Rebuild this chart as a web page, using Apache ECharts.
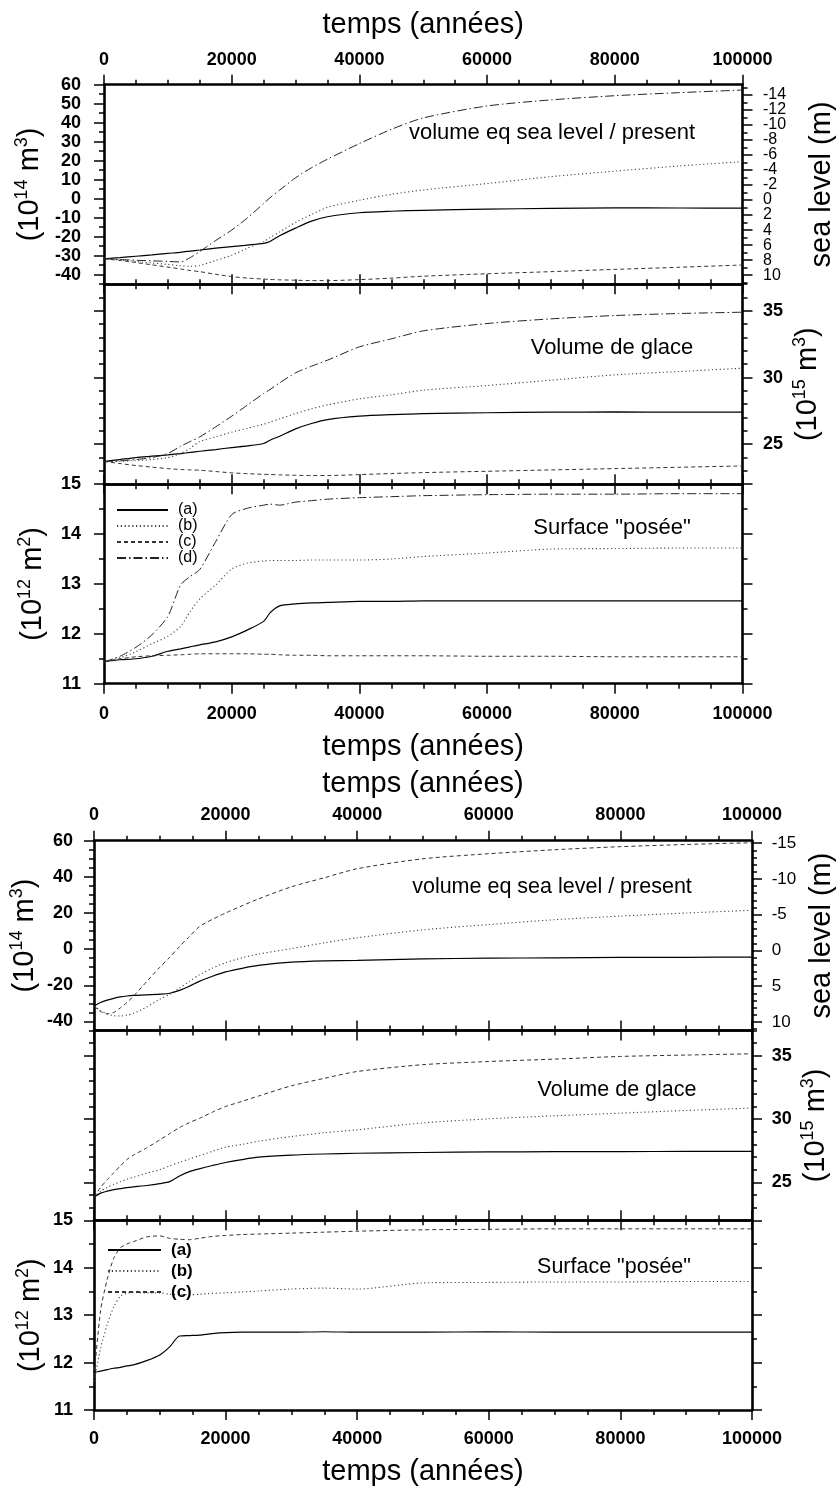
<!DOCTYPE html>
<html><head><meta charset="utf-8">
<script src="https://cdn.jsdelivr.net/npm/echarts@6/dist/echarts.min.js"></script>
<style>html,body{margin:0;padding:0;background:#fff}#c{width:840px;height:1486px}</style>
</head><body><div id="c"></div>
<script>
// ---------------- DATA ----------------
// time axis (years), figure 1 (top) and figure 2 (bottom)
const TA = [0, 2500, 5000, 7500, 10000, 12000, 13500, 15000, 17500, 20000, 22500, 25000, 26000, 27500, 30000, 32500, 35000, 40000, 45000, 50000, 60000, 70000, 80000, 90000, 100000];
const TB = [0, 1000, 2000, 3000, 4000, 5000, 6000, 8000, 10000, 11500, 13000, 14500, 16000, 18000, 20000, 22500, 25000, 30000, 35000, 40000, 50000, 60000, 70000, 80000, 90000, 100000];

// Figure 1 – volume eq sea level / present (10^14 m3)
const f1SeaA = [-31.6, -31.0, -30.3, -29.6, -28.8, -28.2, -27.6, -27.0, -26.0, -25.2, -24.4, -23.5, -22.5, -19.5, -15.5, -11.8, -9.5, -7.4, -6.6, -6.1, -5.5, -5.1, -4.8, -4.9, -5.0];
const f1SeaB = [-31.6, -32.3, -33.0, -33.8, -34.6, -35.3, -35.6, -35.2, -32.5, -29.8, -26.0, -22.5, -20.5, -17.5, -12.5, -8.3, -4.5, -0.8, 2.3, 4.6, 8.0, 11.6, 14.5, 17.2, 19.5];
const f1SeaC = [-31.6, -32.5, -33.6, -34.8, -36.0, -37.0, -37.8, -38.4, -39.8, -41.0, -41.8, -42.3, -42.5, -42.7, -42.9, -43.1, -43.1, -42.6, -41.8, -40.8, -39.5, -38.4, -37.2, -36.1, -34.9];
const f1SeaD = [-31.6, -32.0, -32.4, -32.7, -33.0, -33.3, -31.0, -27.8, -22.0, -16.5, -10.0, -2.5, 0.5, 4.5, 11.0, 16.3, 20.8, 29.0, 36.5, 42.5, 48.8, 52.0, 54.2, 55.8, 57.2];
// Figure 1 – Volume de glace (10^15 m3)
const f1VolA = [23.7, 23.85, 24.0, 24.1, 24.2, 24.3, 24.38, 24.47, 24.6, 24.75, 24.87, 25.05, 25.3, 25.6, 26.15, 26.55, 26.85, 27.1, 27.22, 27.3, 27.36, 27.4, 27.42, 27.4, 27.4];
const f1VolB = [23.7, 23.72, 23.78, 23.85, 24.0, 24.3, 24.7, 25.2, 25.55, 25.9, 26.2, 26.5, 26.65, 26.9, 27.3, 27.65, 27.95, 28.4, 28.7, 29.05, 29.4, 29.8, 30.2, 30.45, 30.7];
const f1VolC = [23.7, 23.55, 23.4, 23.28, 23.17, 23.1, 23.07, 23.05, 22.95, 22.85, 22.79, 22.74, 22.73, 22.7, 22.67, 22.65, 22.65, 22.72, 22.8, 22.87, 22.97, 23.07, 23.17, 23.27, 23.37];
const f1VolD = [23.7, 23.75, 23.85, 24.0, 24.3, 24.85, 25.2, 25.55, 26.3, 27.1, 27.95, 28.8, 29.1, 29.6, 30.35, 30.85, 31.3, 32.3, 32.9, 33.5, 34.05, 34.4, 34.65, 34.8, 34.9];
// Figure 1 – Surface "posée" (10^12 m2)
const f1SurA = [11.44, 11.48, 11.5, 11.55, 11.65, 11.7, 11.74, 11.78, 11.84, 11.94, 12.08, 12.25, 12.42, 12.56, 12.6, 12.62, 12.63, 12.65, 12.65, 12.66, 12.66, 12.66, 12.66, 12.66, 12.66];
const f1SurB = [11.44, 11.52, 11.64, 11.8, 11.95, 12.15, 12.45, 12.7, 12.98, 13.3, 13.42, 13.46, 13.47, 13.47, 13.47, 13.48, 13.48, 13.48, 13.5, 13.55, 13.62, 13.7, 13.71, 13.72, 13.72];
const f1SurC = [11.44, 11.5, 11.54, 11.56, 11.57, 11.58, 11.59, 11.6, 11.6, 11.6, 11.6, 11.59, 11.59, 11.58, 11.57, 11.57, 11.56, 11.56, 11.56, 11.56, 11.55, 11.55, 11.54, 11.54, 11.54];
const f1SurD = [11.44, 11.55, 11.73, 11.98, 12.35, 12.98, 13.15, 13.29, 13.85, 14.39, 14.52, 14.58, 14.6, 14.58, 14.64, 14.67, 14.7, 14.73, 14.75, 14.77, 14.79, 14.8, 14.8, 14.81, 14.81];

// Figure 2 – volume eq sea level / present
const f2SeaA = [-31.4, -29.5, -28.2, -27.2, -26.4, -25.9, -25.6, -25.3, -24.9, -24.4, -22.8, -20.5, -17.8, -15.0, -12.6, -10.6, -9.0, -7.2, -6.5, -6.2, -5.4, -5.0, -4.8, -4.6, -4.5, -4.4];
const f2SeaB = [-31.4, -34.0, -35.8, -36.8, -37.0, -36.5, -35.5, -32.0, -27.7, -25.0, -21.5, -17.8, -14.2, -10.5, -7.5, -4.8, -2.7, 0.3, 3.5, 6.3, 10.7, 13.6, 16.3, 18.3, 20.0, 21.5];
const f2SeaC = [-31.4, -34.5, -35.8, -35.0, -32.5, -29.5, -26.0, -18.0, -10.0, -4.5, 1.5, 7.0, 12.4, 16.5, 20.0, 24.0, 27.8, 34.5, 39.5, 44.5, 50.0, 52.8, 55.0, 56.7, 57.9, 58.9];
// Figure 2 – Volume de glace
const f2VolA = [23.83, 24.15, 24.3, 24.42, 24.5, 24.58, 24.64, 24.75, 24.9, 25.06, 25.5, 25.85, 26.07, 26.33, 26.57, 26.8, 26.99, 27.15, 27.24, 27.3, 27.36, 27.4, 27.42, 27.43, 27.44, 27.44];
const f2VolB = [23.83, 24.3, 24.6, 24.85, 25.05, 25.25, 25.4, 25.72, 26.0, 26.3, 26.58, 26.85, 27.1, 27.45, 27.78, 28.0, 28.25, 28.62, 28.92, 29.15, 29.7, 30.02, 30.26, 30.47, 30.68, 30.87];
const f2VolC = [23.83, 24.6, 25.2, 25.75, 26.3, 26.8, 27.15, 27.72, 28.36, 28.85, 29.33, 29.72, 30.05, 30.55, 30.99, 31.4, 31.82, 32.63, 33.22, 33.76, 34.3, 34.55, 34.74, 34.95, 35.06, 35.16];
// Figure 2 – Surface "posée"
const f2SurA = [11.79, 11.82, 11.85, 11.88, 11.9, 11.93, 11.95, 12.04, 12.16, 12.33, 12.56, 12.57, 12.58, 12.61, 12.63, 12.64, 12.64, 12.64, 12.65, 12.64, 12.64, 12.65, 12.64, 12.64, 12.64, 12.64];
const f2SurB = [11.6, 12.3, 12.8, 13.17, 13.4, 13.46, 13.48, 13.47, 13.47, 13.44, 13.43, 13.43, 13.44, 13.46, 13.47, 13.49, 13.51, 13.55, 13.57, 13.55, 13.68, 13.69, 13.7, 13.7, 13.71, 13.71];
const f2SurC = [11.7, 13.1, 13.75, 14.2, 14.42, 14.5, 14.55, 14.65, 14.67, 14.62, 14.6, 14.59, 14.62, 14.66, 14.68, 14.7, 14.71, 14.73, 14.75, 14.77, 14.8, 14.81, 14.82, 14.82, 14.82, 14.82];

// tick labels
const f1SeaLeftLabels = [-40, -30, -20, -10, 0, 10, 20, 30, 40, 50, 60];
const f1SeaRightLabels = [-14, -12, -10, -8, -6, -4, -2, 0, 2, 4, 6, 8, 10];
const f2SeaLeftLabels = [-40, -20, 0, 20, 40, 60];
const f2SeaRightLabels = [-15, -10, -5, 0, 5, 10];
const volRightLabels = [25, 30, 35];
const legendNames1 = ['(a)', '(b)', '(c)', '(d)'];
const legendNames2 = ['(a)', '(b)', '(c)'];
const panelTitles = ['volume eq sea level / present', 'Volume de glace', 'Surface "posée"'];

// ---------------- CHART ----------------
const FONT = '"Liberation Sans", Arial, Helvetica, sans-serif';
const LW = 2.6;
function range(a, b, s) { const r = []; for (let v = a; v <= b + 1e-9; v += s) r.push(Math.round(v * 1000) / 1000); return r; }
const plain = v => String(v);

const option = { animation: false, backgroundColor: '#fff', grid: [], xAxis: [], yAxis: [], series: [], legend: [], graphic: [] };

const tickLine = { color: '#000', width: 1.5 };
const nameStyle = { fontSize: 29, fontFamily: FONT, color: '#000', lineHeight: 34 };
const richStyle = { rich: {
  m: { fontSize: 29, fontFamily: FONT, color: '#000', lineHeight: 34 },
  s: { fontSize: 18, fontFamily: FONT, color: '#000', verticalAlign: 'top' }
} };
function supName(exp, unit, uexp) { return '{m|(10}{s|' + exp + '}{m| ' + unit + '}{s|' + uexp + '}{m|)}'; }

function addGrid(left, right, top, height) {
  option.grid.push({ left, right, top, height, show: false, containLabel: false, outerBoundsMode: 'none' });
  return option.grid.length - 1;
}
function addX(g, position, labels, margin, name, nameGap) {
  option.xAxis.push({
    type: 'value', gridIndex: g, position, min: 0, max: 100000, interval: 20000,
    axisLine: { show: true, onZero: false, lineStyle: { color: '#000', width: LW } },
    axisTick: { show: true, inside: false, length: 10, lineStyle: tickLine },
    minorTick: { show: true, splitNumber: 4, length: 5, lineStyle: tickLine },
    axisLabel: { show: labels, margin: margin, fontSize: 18, fontWeight: 'bold', color: '#000', fontFamily: FONT,
      formatter: plain, showMinLabel: true, showMaxLabel: true },
    splitLine: { show: false }, minorSplitLine: { show: false },
    name: name || '', nameLocation: 'middle', nameGap: nameGap || 0, nameTextStyle: nameStyle, nameMoveOverlap: false
  });
  return option.xAxis.length - 1;
}
function lbl(vals, style) {
  if (!vals || !vals.length) return { show: false };
  return Object.assign({ show: true, customValues: vals, color: '#000', fontFamily: FONT,
    formatter: plain, showMinLabel: true, showMaxLabel: true, hideOverlap: false }, style);
}
// labels are split between two overlapping axes (alternate values) so that
// tightly stacked labels are never hidden by the overlap logic
function addY(g, position, min, max, inverse, major, minor, labels, labelStyle, name, nameGap, nameTS) {
  const l1 = labels ? labels.filter((v, i) => i % 2 === 0) : null;
  const l2 = labels ? labels.filter((v, i) => i % 2 === 1) : null;
  option.yAxis.push({
    type: 'value', gridIndex: g, position, min, max, inverse: !!inverse,
    axisLine: { show: true, onZero: false, lineStyle: { color: '#000', width: LW } },
    axisTick: { show: true, length: 10, customValues: major, lineStyle: tickLine },
    axisLabel: lbl(l1, labelStyle),
    splitLine: { show: false },
    name: name || '', nameLocation: 'middle', nameRotate: 90, nameGap: nameGap || 0,
    nameTextStyle: nameTS || nameStyle, nameMoveOverlap: false
  });
  const idx = option.yAxis.length - 1;
  option.yAxis.push({
    type: 'value', gridIndex: g, position, min, max, inverse: !!inverse,
    axisLine: { show: false, onZero: false },
    axisTick: { show: true, length: 5, customValues: minor, lineStyle: tickLine },
    axisLabel: lbl(l2, labelStyle), splitLine: { show: false }
  });
  return idx;
}

const STY = {
  '(a)': { type: 'solid', color: '#000', width: 1.2 },
  '(b)': { type: [1.2, 2.6], color: '#444', width: 1.1 },
  '(c)': { type: [4, 3], color: '#333', width: 1 },
  '(d)': { type: [9, 3, 1.5, 3], color: '#222', width: 1 }
};
function addSeries(name, xi, yi, T, vals) {
  option.series.push({
    type: 'line', name, xAxisIndex: xi, yAxisIndex: yi, symbol: 'none', showSymbol: false,
    smooth: 0.25, data: T.map((t, i) => [t, vals[i]]),
    lineStyle: STY[name], itemStyle: { color: STY[name].color }, z: 3
  });
}
const boldLbl = { fontSize: 18, fontWeight: 'bold' };

const F1 = { left: 104, right: 97.5, tops: [84.7, 284.2, 484.2], h: [199.5, 200, 199.5] };
const F2 = { left: 94, right: 88, tops: [840.7, 1030.5, 1220.3], h: [189.8, 189.8, 189.7] };

function buildFigure(F, spec) {
  // panel 1
  let g = addGrid(F.left, F.right, F.tops[0], F.h[0]);
  let xb = addX(g, 'bottom', false, 0);
  addX(g, 'top', true, spec.topMargin, 'temps (années)', spec.topNameGap);
  let yl = addY(g, 'left', -45, 60, false, spec.seaLeftLabels, range(-45, 60, 5), spec.seaLeftLabels,
    Object.assign({ margin: spec.leftMargin }, boldLbl), supName(14, 'm', 3), spec.p1LeftGap, richStyle);
  addY(g, 'right', -15.35, 11.2, true, spec.seaRightLabels, range(-15, 11, 1), spec.seaRightLabels,
    { margin: spec.rightMargin, fontSize: spec.seaRightFont }, 'sea level (m)', spec.p1RightGap);
  spec.sea.forEach(([n, v]) => addSeries(n, xb, yl, spec.T, v));
  // panel 2
  g = addGrid(F.left, F.right, F.tops[1], F.h[1]);
  xb = addX(g, 'bottom', false, 0);
  addX(g, 'top', false, 0);
  yl = addY(g, 'left', 22, 37, false, volRightLabels, range(22, 37, 1), null, null);
  addY(g, 'right', 22, 37, false, volRightLabels, range(22, 37, 1), volRightLabels,
    Object.assign({ margin: spec.rightMargin }, boldLbl), supName(15, 'm', 3), spec.p2RightGap, richStyle);
  spec.vol.forEach(([n, v]) => addSeries(n, xb, yl, spec.T, v));
  // panel 3
  g = addGrid(F.left, F.right, F.tops[2], F.h[2]);
  xb = addX(g, 'bottom', true, spec.botMargin, 'temps (années)', spec.botNameGap);
  addX(g, 'top', false, 0);
  yl = addY(g, 'left', 11, 15, false, range(11, 15, 1), range(11, 15, 0.5), range(11, 15, 1),
    Object.assign({ margin: spec.leftMargin }, boldLbl), supName(12, 'm', 2), spec.p3LeftGap, richStyle);
  addY(g, 'right', 11, 15, false, range(11, 15, 1), range(11, 15, 0.5), null, null);
  spec.sur.forEach(([n, v]) => addSeries(n, xb, yl, spec.T, v));
}

buildFigure(F1, {
  T: TA, topMargin: 16, topNameGap: 43, botMargin: 21, botNameGap: 46,
  leftMargin: 23, rightMargin: 20.5, seaRightFont: 16,
  seaLeftLabels: f1SeaLeftLabels, seaRightLabels: f1SeaRightLabels,
  p1LeftGap: 57, p1RightGap: 62.5, p2RightGap: 48.5, p3LeftGap: 54,
  sea: [['(a)', f1SeaA], ['(b)', f1SeaB], ['(c)', f1SeaC], ['(d)', f1SeaD]],
  vol: [['(a)', f1VolA], ['(b)', f1VolB], ['(c)', f1VolC], ['(d)', f1VolD]],
  sur: [['(a)', f1SurA], ['(b)', f1SurB], ['(c)', f1SurC], ['(d)', f1SurD]]
});
buildFigure(F2, {
  T: TB, topMargin: 17, topNameGap: 40, botMargin: 20, botNameGap: 44.5,
  leftMargin: 21, rightMargin: 19.7, seaRightFont: 17,
  seaLeftLabels: f2SeaLeftLabels, seaRightLabels: f2SeaRightLabels,
  p1LeftGap: 52, p1RightGap: 53, p2RightGap: 47, p3LeftGap: 46,
  sea: [['(a)', f2SeaA], ['(b)', f2SeaB], ['(c)', f2SeaC]],
  vol: [['(a)', f2VolA], ['(b)', f2VolB], ['(c)', f2VolC]],
  sur: [['(a)', f2SurA], ['(b)', f2SurB], ['(c)', f2SurC]]
});

// legends
option.legend.push({
  left: 116, top: 502, orient: 'vertical', data: legendNames1, selectedMode: false, padding: 0,
  itemWidth: 51, itemHeight: 10, itemGap: 0,
  itemStyle: { color: 'rgba(0,0,0,0)', borderWidth: 0, opacity: 0 },
  textStyle: { fontSize: 16, lineHeight: 15, fontFamily: FONT, color: '#000', padding: [0, 0, 0, 5] }
});
option.legend.push({
  left: 107, top: 1241.5, orient: 'vertical', data: legendNames2, selectedMode: false, padding: 0,
  itemWidth: 53, itemHeight: 10, itemGap: 4,
  itemStyle: { color: 'rgba(0,0,0,0)', borderWidth: 0, opacity: 0 },
  textStyle: { fontSize: 17, fontWeight: 'bold', lineHeight: 15, fontFamily: FONT, color: '#000', padding: [0, 0, 0, 5] }
});

// panel annotations
const annPos = [[552, 133, 22], [612, 348, 22], [612, 528, 22], [552, 887, 21.5], [617, 1090, 21.5], [614, 1267, 21.5]];
annPos.forEach(([x, y, fs], i) => {
  option.graphic.push({
    type: 'text', x, y, z: 10,
    style: { text: panelTitles[i % 3], fontSize: fs, fontFamily: FONT, fill: '#000',
      align: 'center', verticalAlign: 'middle', textAlign: 'center', textVerticalAlign: 'middle' }
  });
});

const chart = echarts.init(document.getElementById('c'), null, { renderer: 'canvas', width: 840, height: 1486 });
chart.setOption(option);
</script></body></html>
